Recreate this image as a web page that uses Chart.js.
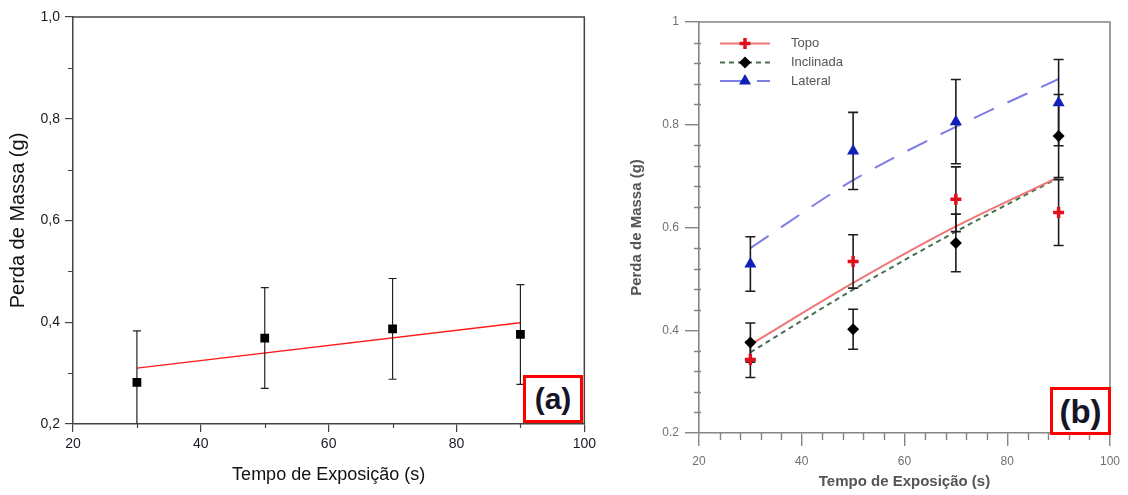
<!DOCTYPE html>
<html>
<head>
<meta charset="utf-8">
<script src="https://cdn.jsdelivr.net/npm/chart.js@4.4.1/dist/chart.umd.min.js"></script>
<style>
  html, body { margin: 0; padding: 0; background: #fff; }
  #wrap { position: relative; width: 1128px; height: 495px; overflow: hidden; background: #fff; }
  canvas { position: absolute; top: 0; }
  #cA { left: 0; }
  #cB { left: 600px; filter: blur(0.7px); }
  .tag {
    position: absolute; box-sizing: border-box; border: 3px solid #f00; background: #fff;
    font-family: 'Liberation Sans', Arial, sans-serif; font-weight: bold; color: #151528;
    display: flex; align-items: center; justify-content: center; line-height: 1;
  }
</style>
</head>
<body>
<div id="wrap">
  <canvas id="cA" width="600" height="495"></canvas>
  <canvas id="cB" width="528" height="495"></canvas>
  <div class="tag" style="left:523px;top:375px;width:60px;height:48px;font-size:30px;">(a)</div>
  <div class="tag" style="left:1050px;top:387px;width:61px;height:48px;font-size:33px;">(b)</div>
</div>
<script>
// ---- panel (a): mass loss vs exposure time ----
const timesA = [30, 50, 70, 90];
const massA = [0.282, 0.369, 0.387, 0.376];
const errA = [0.101, 0.099, 0.099, 0.098];
const fitTimesA = [30, 90];
const fitA = [0.310, 0.399];
const xTicksA = ['20', '40', '60', '80', '100'];
const yTicksA = ['0,2', '0,4', '0,6', '0,8', '1,0'];

// ---- panel (b): three specimen orientations ----
const timesB = [30, 50, 70, 90];
const topo = [0.343, 0.534, 0.655, 0.629];
const topoErr = [0.035, 0.052, 0.063, 0.064];
const inclinada = [0.376, 0.402, 0.570, 0.778];
const inclinadaErr = [0.038, 0.039, 0.056, 0.081];
const lateral = [0.529, 0.749, 0.806, 0.843];
const lateralErr = [0.053, 0.075, 0.082, 0.084];
const topoFit = [0.372, 0.492, 0.602, 0.698];
const inclinadaFit = [0.357, 0.479, 0.592, 0.697];
const lateralFit = [0.560, 0.692, 0.796, 0.889];
const xTicksB = ['20', '40', '60', '80', '100'];
const yTicksB = ['0.2', '0.4', '0.6', '0.8', '1'];
const seriesNames = ['Topo', 'Inclinada', 'Lateral'];

const pts = (xs, ys) => xs.map((x, i) => ({ x, y: ys[i] }));

// vertical error bars with caps, drawn just before the first marker dataset
const errorBars = {
  id: 'errorBars',
  beforeDatasetsDraw(chart) { chart.$errDone = false; },
  beforeDatasetDraw(chart, args, opts) {
    const ds = chart.data.datasets[args.index];
    if (!ds.errorBars || chart.$errDone) return;
    chart.$errDone = true;
    const { ctx, chartArea: a, scales: { x, y } } = chart;
    ctx.save();
    ctx.beginPath(); ctx.rect(a.left, a.top, a.right - a.left, a.bottom - a.top); ctx.clip();
    ctx.strokeStyle = opts.color; ctx.lineWidth = opts.width;
    chart.data.datasets.forEach(d => {
      if (!d.errorBars) return;
      d.data.forEach((p, i) => {
        const e = d.errorBars[i];
        const px = x.getPixelForValue(p.x);
        const yt = y.getPixelForValue(p.y + e), yb = y.getPixelForValue(p.y - e);
        ctx.beginPath();
        ctx.moveTo(px, yt); ctx.lineTo(px, yb);
        ctx.moveTo(px - opts.cap, yt); ctx.lineTo(px + opts.cap, yt);
        ctx.moveTo(px - opts.cap, yb); ctx.lineTo(px + opts.cap, yb);
        ctx.stroke();
      });
    });
    ctx.restore();
  }
};

// closed frame plus minor tick marks on the bottom and left axes
const frameTicks = {
  id: 'frameTicks',
  afterDraw(chart, args, o) {
    const { ctx, chartArea: a, scales: { x, y } } = chart;
    ctx.save();
    ctx.strokeStyle = o.color; ctx.lineWidth = o.width;
    ctx.beginPath();
    ctx.moveTo(a.left, a.top); ctx.lineTo(a.right, a.top); ctx.lineTo(a.right, a.bottom);
    ctx.stroke();
    ctx.lineWidth = o.minorWidth;
    const isMajor = (v, m) => Math.abs(v / m - Math.round(v / m)) < 1e-6;
    ctx.beginPath();
    for (let i = 0; ; i++) {
      const v = x.min + i * o.xMinor;
      if (v > x.max + 1e-9) break;
      if (isMajor(v - x.min, o.xMajor)) continue;
      const px = Math.round(x.getPixelForValue(v)) + 0.5;
      ctx.moveTo(px, a.bottom); ctx.lineTo(px, a.bottom + o.xLen);
    }
    for (let i = 0; ; i++) {
      const v = y.min + i * o.yMinor;
      if (v > y.max + 1e-9) break;
      if (isMajor(v - y.min, o.yMajor)) continue;
      const py = Math.round(y.getPixelForValue(v)) + 0.5;
      ctx.moveTo(a.left - o.yLen, py); ctx.lineTo(a.left + (o.yIn || 0), py);
    }
    ctx.stroke();
    ctx.restore();
  }
};

// series key drawn inside the plot, combining line style and marker
const seriesKey = {
  id: 'seriesKey',
  afterDatasetsDraw(chart, args, o) {
    if (!o.display) return;
    const { ctx } = chart;
    const ds = chart.data.datasets;
    o.rows.forEach((row, k) => {
      const line = ds[row.line], mark = ds[row.mark];
      const yy = o.ys[k];
      ctx.save();
      ctx.strokeStyle = line.borderColor; ctx.lineWidth = line.borderWidth;
      ctx.setLineDash(line.borderDash || []);
      ctx.beginPath(); ctx.moveTo(o.x0, yy); ctx.lineTo(o.x1, yy); ctx.stroke();
      ctx.setLineDash([]);
      ctx.fillStyle = mark.backgroundColor; ctx.strokeStyle = mark.borderColor;
      ctx.lineWidth = mark.borderWidth;
      Chart.helpers.drawPoint(ctx, { pointStyle: mark.pointStyle, radius: mark.pointRadius, rotation: 0, borderWidth: mark.borderWidth }, (o.x0 + o.x1) / 2, yy);
      ctx.fillStyle = o.textColor; ctx.font = o.font; ctx.textBaseline = 'middle'; ctx.textAlign = 'left';
      ctx.fillText(mark.label, o.textX, yy);
      ctx.restore();
    });
  }
};

Chart.defaults.animation = false;
Chart.defaults.font.family = "'Liberation Sans', Arial, sans-serif";

// ---------------- chart (a) ----------------
new Chart(document.getElementById('cA'), {
  type: 'scatter',
  data: {
    datasets: [
      {
        type: 'line', label: 'ajuste', data: pts(fitTimesA, fitA),
        borderColor: '#ff1a1a', borderWidth: 1.3, pointRadius: 0, fill: false, order: 2
      },
      {
        label: 'Perda de Massa', data: pts(timesA, massA), errorBars: errA,
        pointStyle: 'rect', pointRadius: 6.2, backgroundColor: '#000', borderColor: '#000', borderWidth: 0, order: 1
      }
    ]
  },
  options: {
    responsive: false,
    layout: { padding: { top: 17, right: 15, left: 0, bottom: 0 } },
    plugins: {
      legend: { display: false }, tooltip: { enabled: false },
      errorBars: { color: '#222', width: 1.2, cap: 4 },
      frameTicks: { color: '#444', width: 1.5, minorWidth: 1.2, xMinor: 10, xMajor: 20, xLen: 4, yMinor: 0.1, yMajor: 0.2, yLen: 5 },
      seriesKey: { display: false }
    },
    scales: {
      x: {
        type: 'linear', min: 20, max: 100,
        afterFit: s => { s.height = 71; },
        border: { display: true, color: '#444', width: 1.5 },
        grid: { drawOnChartArea: false, drawTicks: true, tickLength: 8, color: '#444', lineWidth: 1.2 },
        ticks: { stepSize: 20, padding: 4, color: '#1a1a22', font: { size: 14 }, maxRotation: 0,
                 callback: (v, i) => xTicksA[i] },
        title: { display: true, text: 'Tempo de Exposição (s)', color: '#111', font: { size: 18 }, padding: { top: 0, bottom: 9 } }
      },
      y: {
        type: 'linear', min: 0.2, max: 1.0,
        afterFit: s => { s.width = 73; },
        border: { display: true, color: '#444', width: 1.5 },
        grid: { drawOnChartArea: false, drawTicks: true, tickLength: 8, color: '#444', lineWidth: 1.2 },
        ticks: { stepSize: 0.2, padding: 5, color: '#1a1a22', font: { size: 14 },
                 callback: (v, i) => yTicksA[i] },
        title: { display: true, text: 'Perda de Massa (g)', color: '#111', font: { size: 20 }, padding: { top: 6, bottom: 0 } }
      }
    }
  },
  plugins: [errorBars, frameTicks, seriesKey]
});

// ---------------- chart (b) ----------------
new Chart(document.getElementById('cB'), {
  type: 'scatter',
  data: {
    datasets: [
      { type: 'line', label: 'Topo ajuste', data: pts(timesB, topoFit), borderColor: 'rgb(238,118,118)', borderWidth: 2,
        pointRadius: 0, cubicInterpolationMode: 'monotone', fill: false, order: 3 },
      { type: 'line', label: 'Inclinada ajuste', data: pts(timesB, inclinadaFit), borderColor: 'rgb(72,112,84)', borderWidth: 2,
        borderDash: [5, 4], pointRadius: 0, cubicInterpolationMode: 'monotone', fill: false, order: 3 },
      { type: 'line', label: 'Lateral ajuste', data: pts(timesB, lateralFit), borderColor: 'rgb(125,125,230)', borderWidth: 2,
        borderDash: [22, 15], pointRadius: 0, cubicInterpolationMode: 'monotone', fill: false, order: 3 },
      { label: seriesNames[0], data: pts(timesB, topo), errorBars: topoErr, pointStyle: 'cross', pointRadius: 5.5,
        borderColor: '#e0101c', backgroundColor: '#e0101c', borderWidth: 3.5, order: 1 },
      { label: seriesNames[1], data: pts(timesB, inclinada), errorBars: inclinadaErr, pointStyle: 'rectRot', pointRadius: 6,
        borderColor: '#000', backgroundColor: '#000', borderWidth: 0, order: 1 },
      { label: seriesNames[2], data: pts(timesB, lateral), errorBars: lateralErr, pointStyle: 'triangle', pointRadius: 7,
        borderColor: '#1020b8', backgroundColor: '#1020b8', borderWidth: 0, order: 1 }
    ]
  },
  options: {
    responsive: false,
    layout: { padding: { top: 22, right: 16, left: 0, bottom: 0 } },
    plugins: {
      legend: { display: false }, tooltip: { enabled: false },
      errorBars: { color: '#1c1c1c', width: 1.6, cap: 5 },
      frameTicks: { color: '#858585', width: 1.6, minorWidth: 1.4, xMinor: 4, xMajor: 20, xLen: 7, yMinor: 0.04, yMajor: 0.2, yLen: 5, yIn: 2 },
      seriesKey: {
        display: true, x0: 120, x1: 170, textX: 191, ys: [43.5, 62.5, 81],
        rows: [{ line: 0, mark: 3 }, { line: 1, mark: 4 }, { line: 2, mark: 5 }],
        font: "13px 'Liberation Sans', Arial, sans-serif", textColor: '#555'
      }
    },
    scales: {
      x: {
        type: 'linear', min: 20, max: 100,
        afterFit: s => { s.height = 62; },
        border: { display: true, color: '#858585', width: 1.6 },
        grid: { drawOnChartArea: false, drawTicks: true, tickLength: 13, color: '#858585', lineWidth: 1.4 },
        ticks: { stepSize: 20, padding: 8, color: '#707070', font: { size: 12 }, maxRotation: 0,
                 callback: (v, i) => xTicksB[i] },
        title: { display: true, text: 'Tempo de Exposição (s)', color: '#555', font: { size: 15, weight: 'bold' }, padding: { top: 0, bottom: 4 } }
      },
      y: {
        type: 'linear', min: 0.2, max: 1.0,
        afterFit: s => { s.width = 99; },
        border: { display: true, color: '#858585', width: 1.6 },
        grid: { drawOnChartArea: false, drawTicks: true, tickLength: 14, color: '#858585', lineWidth: 1.4 },
        ticks: { stepSize: 0.2, padding: 6, color: '#707070', font: { size: 12 },
                 callback: (v, i) => yTicksB[i] },
        title: { display: true, text: 'Perda de Massa (g)', color: '#555', font: { size: 15, weight: 'bold' }, padding: { top: 28, bottom: 0 } }
      }
    }
  },
  plugins: [errorBars, frameTicks, seriesKey]
});
</script>
</body>
</html>
